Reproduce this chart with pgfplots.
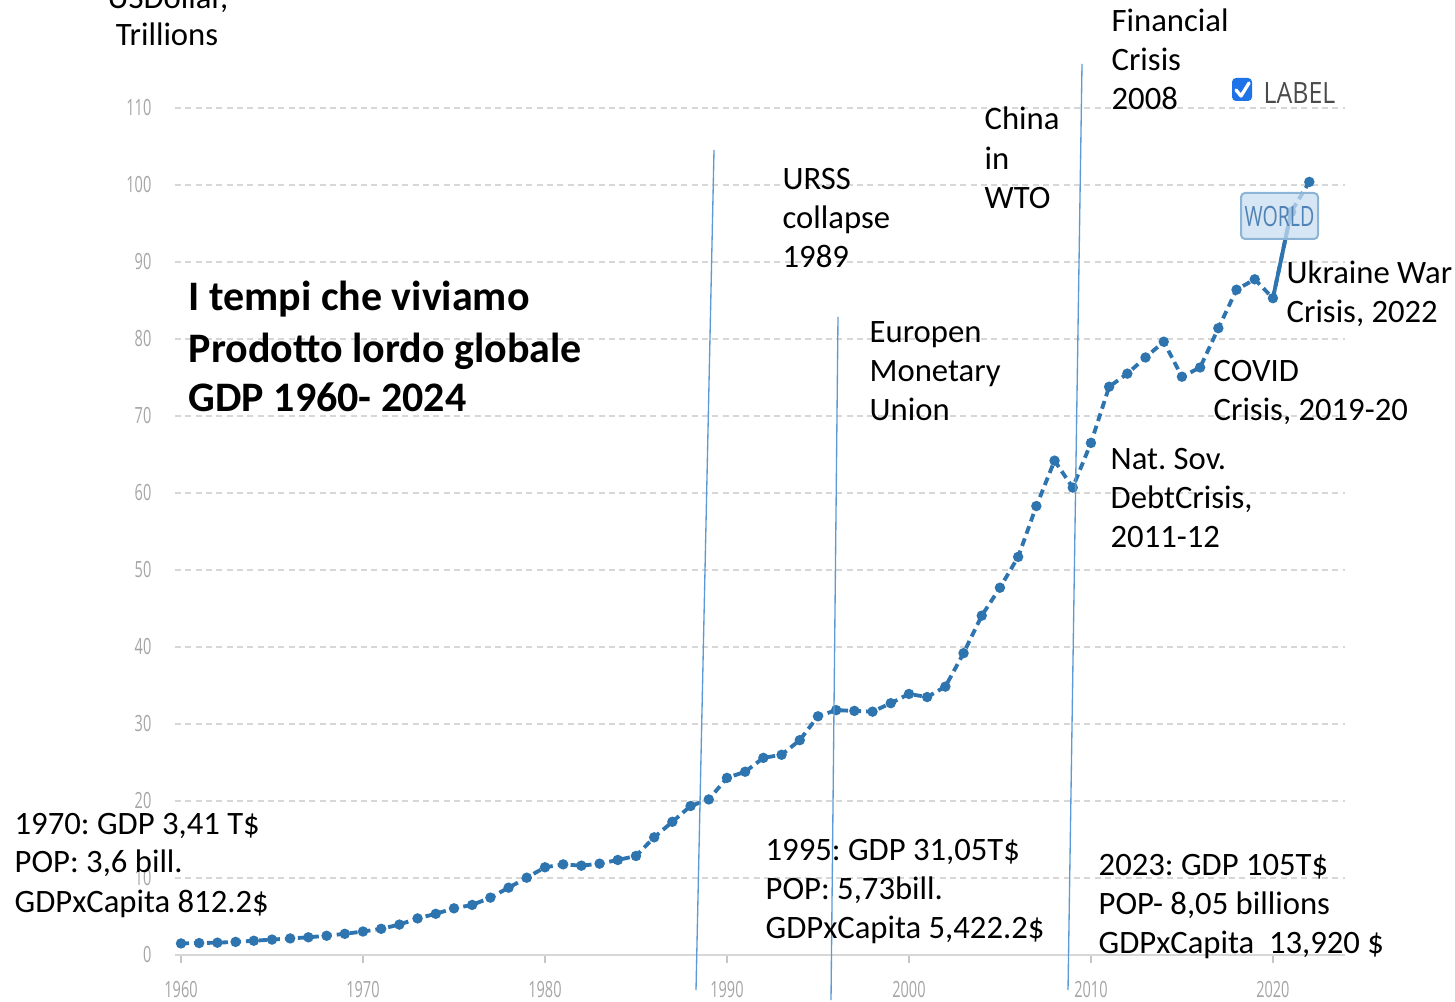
\documentclass[border=0pt]{standalone}
\usepackage{fontspec}
\setmainfont{Carlito}
\newfontfamily\tickfont[FakeStretch=0.65]{Open Sans}
\newfontfamily\lblfont[FakeStretch=0.85]{Open Sans}
\newfontfamily\wfont[FakeStretch=0.7]{Open Sans}
\usepackage{pgfplots}
\pgfplotsset{compat=1.18}
\definecolor{gdp}{RGB}{46,117,176}
\definecolor{vline}{RGB}{91,155,213}
\definecolor{gridc}{RGB}{215,215,215}
\definecolor{tickc}{RGB}{165,165,165}
\definecolor{cbox}{RGB}{30,115,232}
\definecolor{wfill}{RGB}{200,222,240}
\definecolor{wdraw}{RGB}{140,180,215}
\definecolor{wtext}{RGB}{80,130,180}
\definecolor{lbltext}{RGB}{75,75,75}
\newcommand\ann{\fontsize{9.8}{11.5}\selectfont}
\newcommand\ttl{\fontsize{12.6}{15}\selectfont\bfseries}
\frenchspacing
\begin{document}
\begin{tikzpicture}
\begin{axis}[name=ax, scale only axis, width=351pt, height=254.1pt,
  xmin=1959.67, xmax=2023.96, ymin=0, ymax=110,
  axis line style={draw=none},
  clip=false,
  /pgf/number format/assume math mode=true,
  xtick={1960,1970,1980,1990,2000,2010,2020},
  xticklabels={1960,1970,1980,1990,2000,2010,2020},
  ytick={10,20,30,40,50,60,70,80,90,100,110},
  yticklabels={10,20,30,40,50,60,70,80,90,100,110},
  extra y ticks={0}, extra y tick labels={0},
  extra y tick style={ymajorgrids=true, major grid style={solid, draw=gridc, line width=0.6pt}},
  ymajorgrids,
  major grid style={draw=gridc, line width=0.5pt, dash pattern=on 1.8pt off 1.3pt},
  xtick pos=left, tick align=outside, major tick length=2.4pt,
  xtick style={draw=gray!45, line width=0.5pt},
  ytick style={draw=none},
  xticklabel style={font=\tickfont\fontsize{6.7}{8}\selectfont, text=tickc, inner sep=0pt, anchor=north, yshift=-5.4pt},
  yticklabel style={font=\tickfont\fontsize{6.7}{8}\selectfont, text=tickc, inner sep=0pt, anchor=east, xshift=-4.5pt},
]
\addplot[gdp, line width=1.15pt, dash pattern=on 2.4pt off 1.5pt, mark=*, mark size=0.95pt, mark options={solid, fill=gdp, draw=gdp}] coordinates {
(1960,1.50) (1961,1.55) (1962,1.60) (1963,1.70) (1964,1.85) (1965,2.00) (1966,2.15) (1967,2.30) (1968,2.50) (1969,2.75)
(1970,3.05) (1971,3.40) (1972,3.95) (1973,4.75) (1974,5.35) (1975,6.06) (1976,6.50) (1977,7.45) (1978,8.74) (1979,10.04)
(1980,11.39) (1981,11.77) (1982,11.60) (1983,11.86) (1984,12.34) (1985,12.86) (1986,15.28) (1987,17.30) (1988,19.35) (1989,20.20)
(1990,23.00) (1991,23.80) (1992,25.60) (1993,26.00) (1994,27.90) (1995,31.00) (1996,31.80) (1997,31.70) (1998,31.60) (1999,32.70)
(2000,33.90) (2001,33.50) (2002,34.85) (2003,39.20) (2004,44.07) (2005,47.70) (2006,51.70) (2007,58.30) (2008,64.20) (2009,60.70)
(2010,66.50) (2011,73.80) (2012,75.50) (2013,77.60) (2014,79.65) (2015,75.10) (2016,76.30) (2017,81.40) (2018,86.40) (2019,87.75)
(2020,85.30) (2021,96.50) (2022,100.40)
};
\addplot[gdp, line width=1.15pt, solid] coordinates {(2020,85.30) (2021,96.50)};
\end{axis}
\begin{scope}[shift={([xshift=-52.5pt,yshift=286.5pt]ax.south west)}, x=0.3pt, y=-0.3pt]
  % event lines
  \draw[vline, line width=0.4pt] (714,150) -- (696,990);
  \draw[vline, line width=0.4pt] (838,317) -- (831,1000);
  \draw[vline, line width=0.4pt] (1082,64) -- (1068,990);
  % checkbox legend
  \fill[cbox, rounded corners=1.2pt] (1232,78) rectangle (1252,101);
  \draw[white, line width=1pt, line cap=round, line join=round] (1236,90) -- (1241,96) -- (1249,83);
  \node[anchor=base west, inner sep=0, text=lbltext, font=\lblfont\fontsize{8.8}{10}\selectfont] at (1263,104) {LABEL};
  % WORLD tag
  \draw[fill=wfill, fill opacity=0.75, draw=wdraw, line width=0.6pt, rounded corners=1.2pt] (1241,193) rectangle (1318,239);
  \node[inner sep=0, text=wtext, font=\wfont\fontsize{8.4}{10}\selectfont] at (1279.5,216) {WORLD};
  % y unit
  \node[anchor=base, inner sep=0, font=\ann] at (168,9) {USDollar,};
  \node[anchor=base, inner sep=0, font=\ann] at (167,46) {Trillions};
  % title
  \node[anchor=base west, inner sep=0, font=\ttl] at (188,311) {I tempi che viviamo};
  \node[anchor=base west, inner sep=0, font=\ttl] at (188,363) {Prodotto lordo globale};
  \node[anchor=base west, inner sep=0, font=\ttl] at (188,412) {GDP 1960- 2024};
  % events
  \node[anchor=base west, inner sep=0, font=\ann] at (1111,32) {Financial};
  \node[anchor=base west, inner sep=0, font=\ann] at (1111,71) {Crisis};
  \node[anchor=base west, inner sep=0, font=\ann] at (1111,110) {2008};
  \node[anchor=base west, inner sep=0, font=\ann] at (984,130) {China};
  \node[anchor=base west, inner sep=0, font=\ann] at (984,170) {in};
  \node[anchor=base west, inner sep=0, font=\ann] at (984,209) {WTO};
  \node[anchor=base west, inner sep=0, font=\ann] at (782,190) {URSS};
  \node[anchor=base west, inner sep=0, font=\ann] at (782,229) {collapse};
  \node[anchor=base west, inner sep=0, font=\ann] at (782,268) {1989};
  \node[anchor=base west, inner sep=0, font=\ann] at (869,343) {Europen};
  \node[anchor=base west, inner sep=0, font=\ann] at (869,382) {Monetary};
  \node[anchor=base west, inner sep=0, font=\ann] at (869,421) {Union};
  \node[anchor=base west, inner sep=0, font=\ann] at (1286,284) {Ukraine War};
  \node[anchor=base west, inner sep=0, font=\ann] at (1286,323) {Crisis, 2022};
  \node[anchor=base west, inner sep=0, font=\ann] at (1213,382) {COVID};
  \node[anchor=base west, inner sep=0, font=\ann] at (1213,421) {Crisis, 2019-20};
  \node[anchor=base west, inner sep=0, font=\ann] at (1110,470) {Nat. Sov.};
  \node[anchor=base west, inner sep=0, font=\ann] at (1110,509) {DebtCrisis,};
  \node[anchor=base west, inner sep=0, font=\ann] at (1110,548) {2011-12};
  % data boxes
  \node[anchor=base west, inner sep=0, font=\ann] at (14,834) {1970: GDP 3,41 T\$};
  \node[anchor=base west, inner sep=0, font=\ann] at (14,872) {POP: 3,6 bill.};
  \node[anchor=base west, inner sep=0, font=\ann] at (14,912) {GDPxCapita 812.2\$};
  \node[anchor=base west, inner sep=0, font=\ann] at (765,860) {1995: GDP 31,05T\$};
  \node[anchor=base west, inner sep=0, font=\ann] at (765,899) {POP: 5,73bill.};
  \node[anchor=base west, inner sep=0, font=\ann] at (765,938) {GDPxCapita 5,422.2\$};
  \node[anchor=base west, inner sep=0, font=\ann] at (1098,875) {2023: GDP 105T\$};
  \node[anchor=base west, inner sep=0, font=\ann] at (1098,914) {POP- 8,05 billions};
  \node[anchor=base west, inner sep=0, font=\ann] at (1098,953) {GDPxCapita~ 13,920 \$};
  \pgfresetboundingbox
  \path[use as bounding box] (0,0) rectangle (1455,1001);
\end{scope}
\end{tikzpicture}
\end{document}
